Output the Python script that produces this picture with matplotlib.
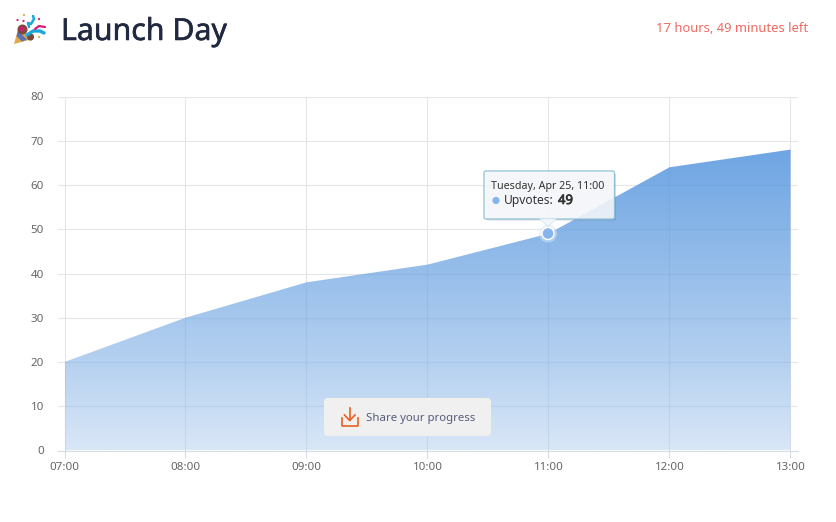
import numpy as np
import matplotlib
matplotlib.use('Agg')
import matplotlib.pyplot as plt
import matplotlib.patheffects as pe
from matplotlib.patches import FancyBboxPatch, Polygon, Circle
from matplotlib.colors import LinearSegmentedColormap

plt.rcParams['font.family'] = ['Noto Sans', 'DejaVu Sans']

# Data
hours = [0, 1, 2, 3, 4, 5, 6]
hour_labels = ['07:00', '08:00', '09:00', '10:00', '11:00', '12:00', '13:00']
upvotes = [20, 30, 38, 42, 49, 64, 68]
y_ticks = [0, 10, 20, 30, 40, 50, 60, 70, 80]

W, H = 836, 522
GRID = '#e6e6e6'
LABEL = '#666666'

fig = plt.figure(figsize=(W / 100, H / 100), dpi=100)
ax = fig.add_axes([58 / W, 1 - 450.5 / H, 740 / W, 354 / H])

ax.set_xticks(hours)
ax.set_xticklabels(hour_labels)
ax.set_yticks(y_ticks)
ax.grid(True, color=GRID, lw=0.8)
ax.set_axisbelow(True)
ax.tick_params(axis='x', length=5, width=0.8, color='#d5dce6', labelsize=8.3, labelcolor=LABEL, pad=3)
ax.tick_params(axis='y', length=0, labelsize=8.3, labelcolor=LABEL, pad=10)
for name, spine in ax.spines.items():
    spine.set_visible(name == 'bottom')
ax.spines['bottom'].set_color('#d5dce6')
ax.spines['bottom'].set_linewidth(0.8)

# Area with vertical gradient, clipped to the series
poly = ax.fill_between(hours, upvotes, 0, color='none', lw=0)
cmap = LinearSegmentedColormap.from_list('area', [(0, '#d9e7f7'), (0.3, '#b4d0f0'), (1, '#6ea5e3')])
grad = np.linspace(0, 1, 256).reshape(-1, 1)
img = ax.imshow(grad, origin='lower', aspect='auto', extent=[0, 6, 0, 68], cmap=cmap, zorder=2)
img.set_clip_path(poly.get_paths()[0], transform=ax.transData)

# Grid shows through the area as slightly darker lines
over_h = ax.hlines(y_ticks, 0, 6, color='#5f86b8', lw=0.8, alpha=0.13, zorder=3)
over_v = ax.vlines(hours, 0, 80, color='#5f86b8', lw=0.8, alpha=0.13, zorder=3)
over_h.set_clip_path(poly.get_paths()[0], transform=ax.transData)
over_v.set_clip_path(poly.get_paths()[0], transform=ax.transData)

ax.set_xlim(-6.5 / 121, 6 + 7.5 / 121)
ax.set_ylim(0, 80)

# Overlay in pixel coordinates for the page elements
ov = fig.add_axes([0, 0, 1, 1], zorder=5)
ov.set_xlim(0, W)
ov.set_ylim(H, 0)
ov.axis('off')

ov.text(61, 32, 'Launch Day', fontsize=21.8, color='#212940', va='center', ha='left',
        path_effects=[pe.withStroke(linewidth=0.4, foreground='#212940')])
ov.text(808, 29, '17 hours, 49 minutes left', fontsize=9.35, color='#ee6a62', va='center', ha='right')

# Party popper icon
ov.add_patch(Polygon([[14, 44], [19, 26], [33, 39]], closed=True, fc='#e0aa4c', ec='none'))
ov.add_patch(Polygon([[16.5, 36], [18, 31], [27, 39.5], [22, 41.5]], closed=True, fc='#5a6fb5', ec='none'))
ov.add_patch(Circle((22.5, 29.5), 5, fc='#7a4a3a', ec='none'))
ov.add_patch(Circle((30.5, 37), 3.6, fc='#7a4a3a', ec='none'))
ov.add_patch(Circle((22, 29), 2.6, fc='#c9206f', ec='none'))
ov.plot([27, 33, 40, 44], [35, 31, 31, 33], color='#19a7dd', lw=2.4, solid_capstyle='round')
ov.plot([35, 39, 45], [29, 26, 27], color='#d81b7a', lw=1.6, solid_capstyle='round')
ov.plot([29, 28, 31, 34, 33], [27, 23, 24, 19, 16], color='#19a7dd', lw=1.8, solid_capstyle='round')
for cx, cy, c in [(17.5, 20, '#d81b7a'), (24, 15, '#e0aa4c'), (23.5, 21, '#d81b7a'), (39, 19, '#d81b7a'), (39, 37, '#e0aa4c')]:
    ov.add_patch(Circle((cx, cy), 1.1, fc=c, ec='none'))

# Tooltip with pointer and hovered marker
ov.add_patch(FancyBboxPatch((486, 173), 130, 47.5, boxstyle='round,pad=0,rounding_size=2',
                            fc='#555555', ec='none', alpha=0.2))
ov.add_patch(FancyBboxPatch((484, 171), 130.5, 48, boxstyle='round,pad=0,rounding_size=2',
                            fc=(0.98, 0.985, 0.995, 0.86), ec='#8fc1d6', lw=0.9))
ov.add_patch(Polygon([[540, 218.6], [556, 218.6], [548, 227]], closed=True, fc=(0.95, 0.97, 0.99, 0.95), ec='none'))
ov.plot([540, 548, 556], [219, 227, 219], color='#dde9ef', lw=0.7)
ov.text(491, 186, 'Tuesday, Apr 25, 11:00', fontsize=7.7, color='#333333', va='center', ha='left')
ov.add_patch(Circle((496, 200.5), 3.6, fc='#86b5ec', ec='none'))
ov.text(504, 200.5, 'Upvotes:', fontsize=8.7, color='#333333', va='center', ha='left')
ov.text(558, 200.5, str(upvotes[4]), fontsize=9.4, color='#333333', va='center', ha='left',
        path_effects=[pe.withStroke(linewidth=0.5, foreground='#333333')])
ov.add_patch(Circle((548, 233.5), 9, fc=(0.85, 0.91, 0.98, 0.5), ec='none'))
ov.add_patch(Circle((548, 233.5), 6, fc='#86b5ec', ec='white', lw=1.0))

# Share button
ov.add_patch(FancyBboxPatch((324, 398), 167, 38, boxstyle='round,pad=0,rounding_size=4',
                            fc='#f0f0f0', ec='none'))
ov.plot([341.5, 341.5, 358, 358], [418, 425.5, 425.5, 418], color='#e8601f', lw=1.2)
ov.plot([349.7, 349.7], [408, 420], color='#e8601f', lw=1.2)
ov.plot([344.5, 349.7, 355], [415, 420.5, 415], color='#e8601f', lw=1.2)
ov.text(366, 418, 'Share your progress', fontsize=8.2, color='#555c7c', va='center', ha='left')

fig.savefig('out.png', dpi=100)
